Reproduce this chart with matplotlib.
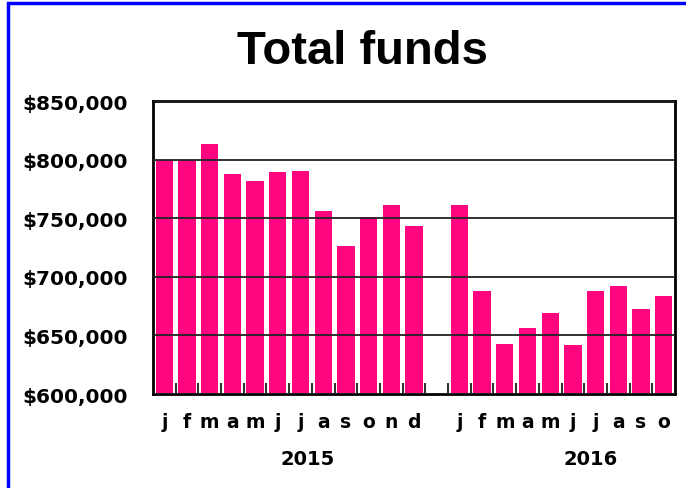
import numpy as np
import matplotlib
matplotlib.use("Agg")
import matplotlib.pyplot as plt
from matplotlib.patches import Rectangle
from matplotlib.ticker import FuncFormatter

# monthly totals
months_2015 = ["j", "f", "m", "a", "m", "j", "j", "a", "s", "o", "n", "d"]
funds_2015 = [800000, 800000, 813000, 788000, 781500, 789000,
              790000, 756000, 726000, 751000, 761000, 743000]
months_2016 = ["j", "f", "m", "a", "m", "j", "j", "a", "s", "o"]
funds_2016 = [761000, 688000, 643000, 656000, 669000, 642000,
              688000, 692000, 672500, 684000]
years = ["2015", "2016"]

bar_color = "#ff0580"

fig = plt.figure(figsize=(6.86, 4.89), dpi=100)
ax = fig.add_axes([0.223, 0.1922, 0.761, 0.5992])

x15 = np.arange(len(funds_2015))
x16 = np.arange(len(funds_2016)) + len(funds_2015) + 1
ax.bar(x15, funds_2015, width=0.76, color=bar_color, zorder=2)
ax.bar(x16, funds_2016, width=0.76, color=bar_color, zorder=2)

ax.set_xlim(-0.5, x16[-1] + 0.5)
ax.set_ylim(600000, 850000)
ax.set_yticks(np.arange(600000, 850001, 50000))
ax.yaxis.set_major_formatter(FuncFormatter(lambda v, p: "${:,.0f}".format(v)))
for lab in ax.get_yticklabels():
    lab.set_fontfamily("DejaVu Sans")
    lab.set_fontweight("bold")
    lab.set_fontsize(14.5)
ax.tick_params(axis="y", length=0, pad=18)

# gridlines on top of bars
ax.grid(axis="y", color="#222222", linewidth=1.3, zorder=3)
ax.set_axisbelow(False)

# month labels + little inward ticks between bars
ax.set_xticks(np.concatenate([x15, x16]))
ax.set_xticklabels(months_2015 + months_2016, fontsize=13.5, fontweight="heavy",
                   fontfamily="DejaVu Sans")
ax.tick_params(axis="x", which="major", length=0, pad=13)
ax.set_xticks(np.arange(0, x16[-1]) + 0.5, minor=True)
ax.tick_params(axis="x", which="minor", direction="in", length=8, width=1.5,
               color="#333333")

for s in ax.spines.values():
    s.set_linewidth(2)
    s.set_color("black")

# year labels
ax.text(6.3, -0.22, years[0], transform=ax.get_xaxis_transform(),
        ha="center", va="center", fontsize=14, fontweight="bold",
        fontfamily="DejaVu Sans")
ax.text(18.8, -0.22, years[1], transform=ax.get_xaxis_transform(),
        ha="center", va="center", fontsize=14, fontweight="bold",
        fontfamily="DejaVu Sans")

fig.text(362 / 686, 1 - 52 / 489, "Total funds", ha="center", va="center",
         fontsize=34, fontweight="bold", fontfamily="Liberation Sans")

# blue frame around the figure
fig.patches.append(Rectangle((8 / 686, -0.1), 1.1, 1 - 4 / 489 + 0.1,
                             transform=fig.transFigure, fill=False,
                             edgecolor="#0000ff", linewidth=2.5, clip_on=False))

fig.savefig("out.png", dpi=100)
